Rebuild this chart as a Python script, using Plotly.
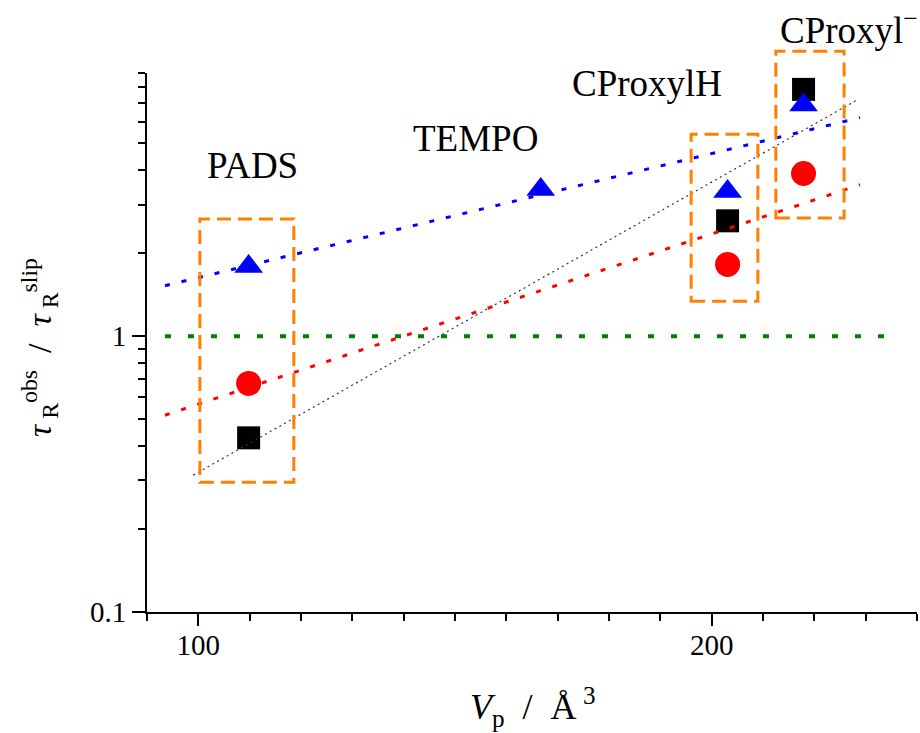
import math
import plotly.graph_objects as go

# Probe volumes V_p (Å^3) and rotational-time ratios for each probe
probe_names = ["PADS", "TEMPO", "CProxylH", "CProxyl<sup>−</sup>"]

vp_square = [109.8, 203.1, 217.9]
ratio_square = [0.428, 2.62, 7.85]

vp_circle = [109.8, 203.1, 217.9]
ratio_circle = [0.674, 1.82, 3.89]

vp_triangle = [109.8, 166.7, 203.1, 217.9]
ratio_triangle = [1.79, 3.40, 3.35, 6.89]

# Trend lines (end points of each fit)
fit_blue_x = [93.5, 228.9]
fit_blue_y = [1.524, 6.20]
fit_red_x = [93.5, 228.9]
fit_red_y = [0.517, 3.54]
fit_black_x = [99.0, 228.4]
fit_black_y = [0.3135, 7.20]
slip_x = [93.5, 236.0]
slip_y = [1.0, 1.0]

# Frames around the probe groups (PADS, CProxylH, CProxyl-)
frame_x0 = [100.3, 196.0, 212.5]
frame_x1 = [118.6, 209.0, 225.8]
frame_y0 = [0.2956, 1.34, 2.68]
frame_y1 = [2.66, 5.40, 10.8]

X_RANGE = [90, 240]
Y_RANGE = [-1, math.log10(9)]

SERIF = "Liberation Serif"


def y_paper(v):
    """Position of a y value on the log axis as a fraction of the plot height."""
    return (math.log10(v) - Y_RANGE[0]) / (Y_RANGE[1] - Y_RANGE[0])


fig = go.Figure()

fig.add_trace(go.Scatter(
    x=vp_square, y=ratio_square, mode="markers",
    marker=dict(symbol="square", size=23, color="black"),
    showlegend=False))
fig.add_trace(go.Scatter(
    x=vp_circle, y=ratio_circle, mode="markers",
    marker=dict(symbol="circle", size=25, color="#ff0000"),
    showlegend=False))
fig.add_trace(go.Scatter(
    x=vp_triangle, y=ratio_triangle, mode="markers",
    marker=dict(symbol="triangle-up", size=25, color="#0000ff"),
    showlegend=False))

fig.add_trace(go.Scatter(
    x=fit_black_x, y=fit_black_y, mode="lines",
    line=dict(color="#333333", width=1.2, dash="2px,3.5px"),
    showlegend=False))
fig.add_trace(go.Scatter(
    x=fit_red_x, y=fit_red_y, mode="lines",
    line=dict(color="#ff0000", width=3, dash="5px,12px"),
    showlegend=False))
fig.add_trace(go.Scatter(
    x=fit_blue_x, y=fit_blue_y, mode="lines",
    line=dict(color="#0000ff", width=3, dash="5px,12px"),
    showlegend=False))
fig.add_trace(go.Scatter(
    x=slip_x, y=slip_y, mode="lines",
    line=dict(color="#008000", width=4, dash="6px,17px"),
    showlegend=False))

for x0, x1, y0, y1 in zip(frame_x0, frame_x1, frame_y0, frame_y1):
    fig.add_shape(
        type="rect", xref="x", yref="paper",
        x0=x0, x1=x1, y0=y_paper(y0), y1=y_paper(y1),
        line=dict(color="rgb(255,128,0)", width=3, dash="14px,7px"),
        fillcolor="rgba(0,0,0,0)", layer="above")

# Probe labels
label_x = [110.6, 153.9, 187.4, 226.8]
label_y = [0.829, 0.879, 0.981, 1.085]
for name, lx, ly in zip(probe_names, label_x, label_y):
    fig.add_annotation(
        x=lx, y=ly, xref="x", yref="paper", text=name, showarrow=False,
        xanchor="center", yanchor="middle",
        font=dict(family=SERIF, size=37, color="black"))

# Axis titles
fig.add_annotation(
    x=0.501, y=-0.176, xref="paper", yref="paper",
    text="<i>V</i><sub>p</sub>\u00a0 /\u00a0 Å<sup>\u00a03</sup>",
    showarrow=False, xanchor="center", yanchor="middle",
    font=dict(family=SERIF, size=36, color="black"))
fig.add_annotation(
    x=-0.139, y=0.4917, xref="paper", yref="paper",
    text="<i>τ</i><sub>\u00a0R</sub><sup>obs</sup>\u00a0 /\u00a0 <i>τ</i><sub>\u00a0R</sub><sup>slip</sup>",
    textangle=-90, showarrow=False, xanchor="center", yanchor="middle",
    font=dict(family=SERIF, size=34, color="black"))

x_minor = [v for v in range(90, 241, 10) if v not in (100, 200)]
y_minor = [0.2, 0.3, 0.4, 0.5, 0.6, 0.7, 0.8, 0.9, 2, 3, 4, 5, 6, 7, 8, 9]

fig.update_xaxes(
    range=X_RANGE, showgrid=False, zeroline=False,
    showline=True, linecolor="black", linewidth=2,
    ticks="outside", ticklen=12, tickwidth=2, tickcolor="black",
    tickmode="array", tickvals=[100, 200], ticktext=["100", "200"],
    ticklabelstandoff=-6,
    tickfont=dict(family=SERIF, size=29, color="black"),
    minor=dict(tickmode="array", tickvals=x_minor, ticks="outside",
               ticklen=7, tickwidth=2, tickcolor="black", showgrid=False))
fig.update_yaxes(
    type="log", range=Y_RANGE, showgrid=False, zeroline=False,
    showline=True, linecolor="black", linewidth=2,
    ticks="outside", ticklen=13, tickwidth=2, tickcolor="black",
    tickmode="array", tickvals=[0.1, 1], ticktext=["0.1", "1"],
    tickfont=dict(family=SERIF, size=29, color="black"),
    minor=dict(tickmode="array", tickvals=y_minor, ticks="outside",
               ticklen=7, tickwidth=2, tickcolor="black", showgrid=False))

fig.update_layout(
    width=920, height=733,
    margin=dict(l=147, r=3, t=73, b=121),
    font=dict(family=SERIF, color="black"),
    paper_bgcolor="white", plot_bgcolor="white",
    showlegend=False)

fig.write_html("out.html")
